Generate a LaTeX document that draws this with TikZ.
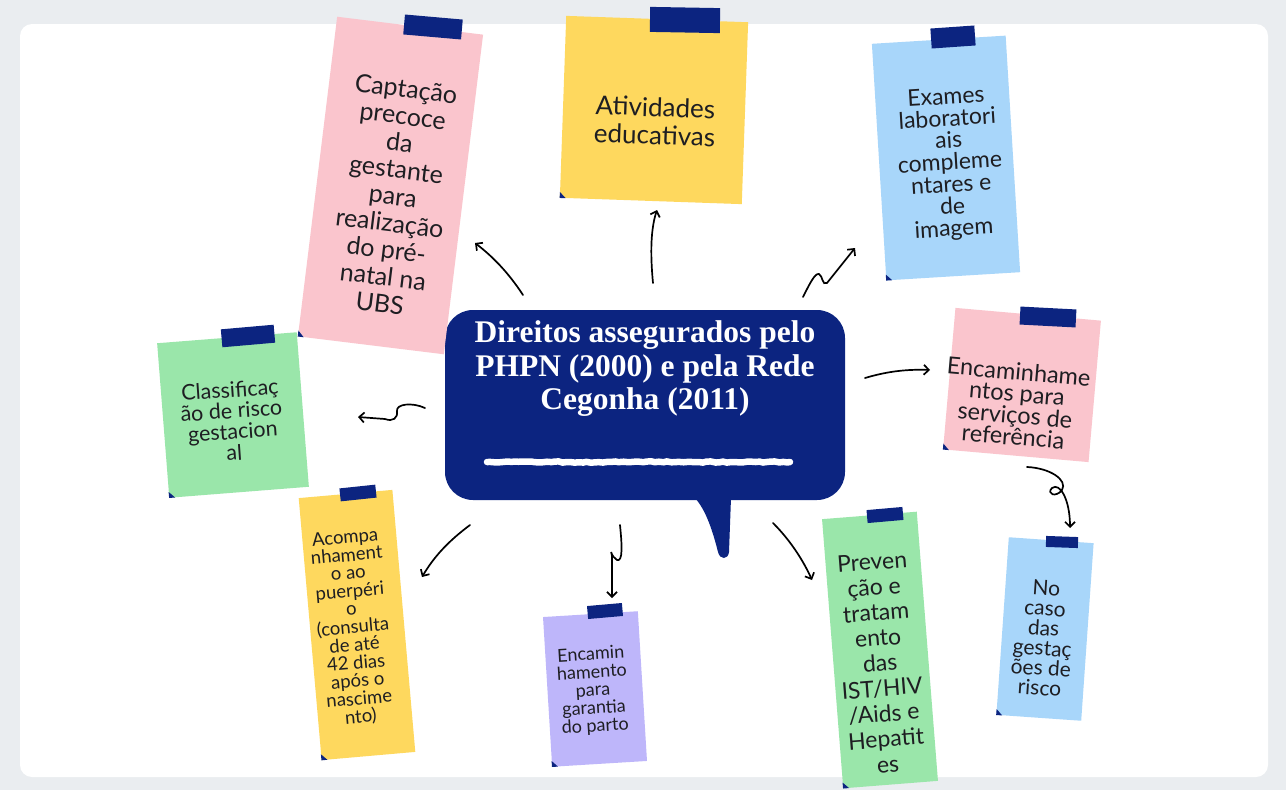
\documentclass[tikz,border=0pt]{standalone}
\usepackage{fontspec}
\setmainfont{Liberation Serif}
\newfontfamily\notefont{Lato}
\usetikzlibrary{arrows.meta,calc,decorations.pathmorphing}

\definecolor{navy}{RGB}{12,36,128}
\definecolor{pagegrey}{RGB}{234,237,240}
\definecolor{notepink}{RGB}{250,197,205}
\definecolor{noteyellow}{RGB}{254,216,94}
\definecolor{noteblue}{RGB}{168,214,250}
\definecolor{notegreen}{RGB}{154,230,170}
\definecolor{notepurple}{RGB}{190,182,250}
\definecolor{ink}{RGB}{30,30,34}

\tikzset{
  paper/.style={fill=#1, draw=none, inner sep=0pt},
  tape/.style={fill=navy, draw=none, inner sep=0pt},
  notetext/.style={font=\notefont, align=center, text=ink, inner sep=0pt},
  link/.style={draw=black, line width=1.7pt, line cap=round,
    -{Straight Barb[length=5pt,width=10pt,line width=1.7pt]}},
}

% sticky note: name, centre, width, height, angle, colour
\newcommand{\stickynote}[6]{%
  \node[paper=#6, minimum width=#3pt, minimum height=#4pt, rotate=#5] (#1) at (#2) {};
  \fill[navy] (#1.south west) -- ($(#1.south west)!6pt!(#1.north west)$)
    -- ($(#1.south west)!6pt!(#1.south east)$) -- cycle;
}

\begin{document}
\begin{tikzpicture}[x=1pt,y=-1pt]
  % page
  \fill[pagegrey] (0,0) rectangle (1286,790);
  \fill[white, rounded corners=12pt] (20,24) rectangle (1268,777);

  % central speech bubble
  \node[fill=navy, rounded corners=28pt, minimum width=400pt, minimum height=190pt,
        inner sep=0pt] (hub) at (645,405) {};
  \fill[navy] (695,498) .. controls (706,510) and (713,532) .. (718,552)
     .. controls (720,560) and (728,560) .. (729,552) -- (731,498) -- cycle;
  \node[font=\bfseries\fontsize{31.5}{33.5}\selectfont, text=white, align=center,
        inner sep=0pt] (title) at (645,369)
    {Direitos assegurados pelo\\PHPN (2000) e pela Rede\\Cegonha (2011)};
  \coordinate (chalkL) at (487,462);
  \coordinate (chalkR) at (790,462);
  \draw[white, line width=6.5pt, line cap=round,
        decorate, decoration={random steps, segment length=4pt, amplitude=0.7pt}]
    (chalkL) -- (chalkR);

  % notes
  \stickynote{capt}{390.5,185.5}{147}{322}{-7}{notepink}
  \node[tape, minimum width=58pt, minimum height=20pt, rotate=-5] (capt-tape) at (433,27) {};
  \node[notetext, font=\notefont\fontsize{25}{27}\selectfont, rotate=-7] (capt-txt) at (393,196)
    {Captação\\precoce\\da\\gestante\\para\\realização\\do pré-\\natal na\\UBS};

  \stickynote{ativ}{654,110}{182}{182}{-2}{noteyellow}
  \node[tape, minimum width=70pt, minimum height=25pt, rotate=-1] (ativ-tape) at (685,20) {};
  \node[notetext, font=\notefont\fontsize{26}{28}\selectfont, rotate=-2] (ativ-txt) at (655,121)
    {Atividades\\educativas};

  \stickynote{exam}{946,158}{134}{237}{3.5}{noteblue}
  \node[tape, minimum width=44pt, minimum height=20pt, rotate=4] (exam-tape) at (953,37) {};
  \node[notetext, font=\notefont\fontsize{23}{22}\selectfont, rotate=3.5] (exam-txt) at (950,164)
    {Exames\\laboratori\\ais\\compleme\\ntares e\\de\\imagem};

  \stickynote{clas}{233,415}{140}{155}{4.5}{notegreen}
  \node[tape, minimum width=53pt, minimum height=18pt, rotate=5] (clas-tape) at (248,336) {};
  \node[notetext, font=\notefont\fontsize{21.5}{21}\selectfont, rotate=4] (clas-txt) at (232,421)
    {Classificaç\\ão de risco\\gestacion\\al};

  \stickynote{enca}{1022,385}{146}{142}{-5}{notepink}
  \node[tape, minimum width=56pt, minimum height=18pt, rotate=-3] (enca-tape) at (1048,317) {};
  \node[notetext, font=\notefont\fontsize{23.5}{21.7}\selectfont, rotate=-5] (enca-txt) at (1016,404)
    {Encaminhame\\ntos para\\serviços de\\referência};

  \stickynote{risc}{1045,629}{85}{178}{-4}{noteblue}
  \node[tape, minimum width=32pt, minimum height=11pt, rotate=-2] (risc-tape) at (1062,542) {};
  \node[notetext, font=\notefont\fontsize{21}{20}\selectfont, rotate=-4] (risc-txt) at (1043,638)
    {No\\caso\\das\\gestaç\\ões de\\risco};

  \stickynote{prev}{880,650}{95}{270}{4.5}{notegreen}
  \node[tape, minimum width=36pt, minimum height=13pt, rotate=5] (prev-tape) at (885,515) {};
  \node[notetext, font=\notefont\fontsize{23}{25.4}\selectfont, rotate=4.5] (prev-txt) at (880,663)
    {Preven\\ção e\\tratam\\ento\\das\\IST/HIV\\/Aids e\\Hepatit\\es};

  \stickynote{part}{595,689}{95}{150}{3.5}{notepurple}
  \node[tape, minimum width=35pt, minimum height=13pt, rotate=5] (part-tape) at (605,611) {};
  \node[notetext, font=\notefont\fontsize{18}{18}\selectfont, rotate=3.5] (part-txt) at (593,691)
    {Encamin\\hamento\\para\\garantia\\do parto};

  \stickynote{puer}{357,625}{94}{263}{5}{noteyellow}
  \node[tape, minimum width=36pt, minimum height=13pt, rotate=6] (puer-tape) at (358,493) {};
  \node[notetext, font=\notefont\fontsize{18.5}{18}\selectfont, rotate=5] (puer-txt) at (353,628)
    {Acompa\\nhament\\o ao\\puerpéri\\o\\(consulta\\de até\\42 dias\\após o\\nascime\\nto)};

  % connector ends
  \coordinate (s-capt) at (523,295);  \coordinate (e-capt) at (475,243);
  \coordinate (s-ativ) at (653,283);  \coordinate (e-ativ) at (657,210);
  \coordinate (s-exam) at (803,297);  \coordinate (e-exam) at (855,248);
  \coordinate (s-clas) at (425,408);  \coordinate (e-clas) at (358,417);
  \coordinate (s-enca) at (865,378);  \coordinate (e-enca) at (930,370);
  \coordinate (s-risc) at (1027,467); \coordinate (e-risc) at (1070,528);
  \coordinate (s-prev) at (773,523);  \coordinate (e-prev) at (812,580);
  \coordinate (s-part) at (620,525);  \coordinate (e-part) at (612,598);
  \coordinate (s-puer) at (470,525);  \coordinate (e-puer) at (422,577);

  % connectors
  \draw[link] (s-capt) .. controls (508,272) and (492,256) .. (e-capt);
  \draw[link] (s-ativ) .. controls (650,252) and (651,228) .. (e-ativ);
  \draw[link] (s-exam) .. controls (810,283) and (815,273) .. (819,274)
     .. controls (823,276) and (822,286) .. (827,283) -- (e-exam);
  \draw[link] (s-clas) .. controls (412,402) and (396,404) .. (397,411)
     .. controls (398,418) and (393,422) .. (385,419) -- (e-clas);
  \draw[link] (s-enca) .. controls (885,372) and (905,369) .. (e-enca);
  \draw[link] (s-risc) .. controls (1050,468) and (1068,480) .. (1062,490)
     .. controls (1056,498) and (1046,494) .. (1052,488)
     .. controls (1060,482) and (1070,500) .. (e-risc);
  \draw[link] (s-prev) .. controls (790,540) and (803,560) .. (e-prev);
  \draw[link] (s-part) .. controls (622,545) and (623,562) .. (617,560)
     .. controls (611,557) and (610,546) .. (612,556) -- (e-part);
  \draw[link] (s-puer) .. controls (450,540) and (435,555) .. (e-puer);
\end{tikzpicture}
\end{document}
